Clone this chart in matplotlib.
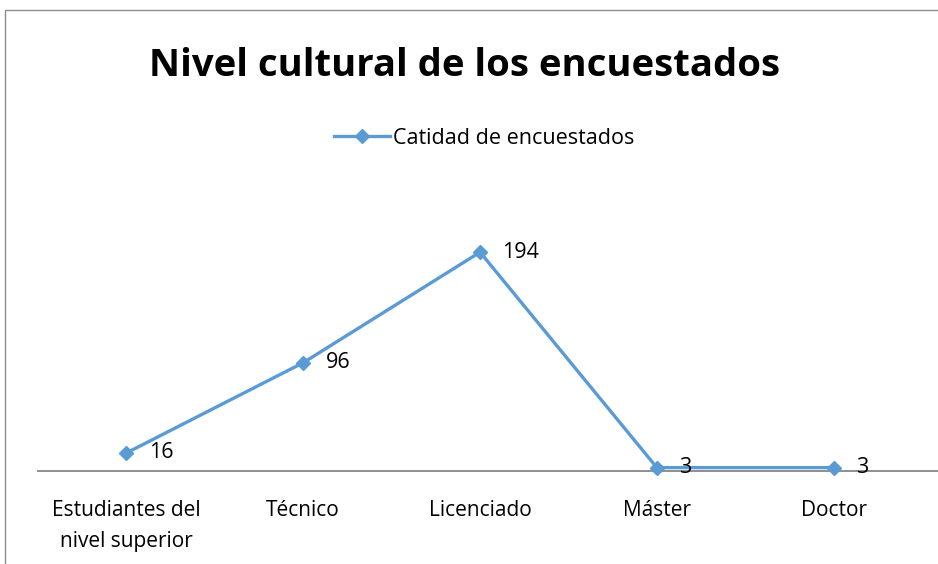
import matplotlib.pyplot as plt
from matplotlib.patches import Rectangle

categorias = ['Estudiantes del\nnivel superior', 'Técnico', 'Licenciado', 'Máster', 'Doctor']
cantidad = [16, 96, 194, 3, 3]
serie = 'Catidad de encuestados'

azul = '#5B9BD5'
plt.rcParams['font.family'] = ['Open Sans', 'DejaVu Sans']

fig = plt.figure(figsize=(9.38, 5.64), dpi=100)
# marco del grafico
fig.patches.append(Rectangle((5 / 938, -0.1), 1.1, 1.1 - 10 / 564,
                             transform=fig.transFigure, fill=False,
                             edgecolor='#8C8C8C', linewidth=1.0))

ax = fig.add_axes([38 / 938, 93 / 564, 900 / 938, 282 / 564])
x = list(range(len(categorias)))
ax.plot(x, cantidad, color=azul, linewidth=2.4, marker='D', markersize=7,
        label=serie, clip_on=False, zorder=3)

for xi, v in zip(x, cantidad):
    ax.annotate(str(v), (xi, v), xytext=(16, 0), textcoords='offset points',
                va='center', ha='left', fontsize=15.5, color='black')

ax.set_xlim(-0.5, 4.59)
ax.set_ylim(0, 250)
ax.set_xticks(x)
ax.set_xticklabels(categorias, fontsize=15, linespacing=1.6)
ax.tick_params(axis='x', length=0, pad=21)
ax.set_yticks([])
for s in ['top', 'right', 'left']:
    ax.spines[s].set_visible(False)
ax.spines['bottom'].set_color('#868686')
ax.spines['bottom'].set_linewidth(1.3)

fig.text(465 / 938, 1 - 66 / 564, 'Nivel cultural de los encuestados',
         ha='center', va='center', fontsize=27.5, fontweight='bold')

fig.legend(loc='center', bbox_to_anchor=(484 / 938, 1 - 138 / 564),
           frameon=False, fontsize=15.5, handlelength=2.6, handletextpad=0.15)

fig.savefig('out.png', dpi=100)
